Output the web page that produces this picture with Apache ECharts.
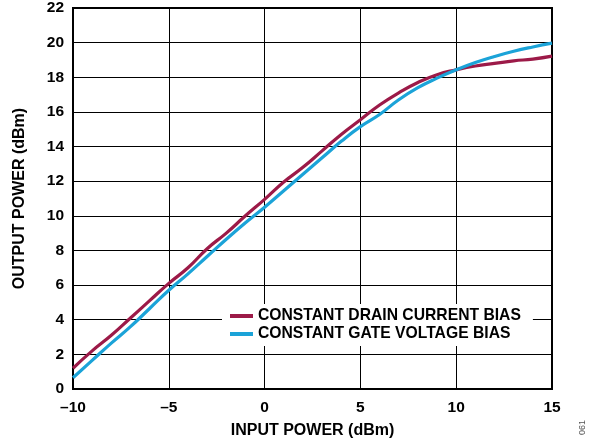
<!DOCTYPE html>
<html>
<head>
<meta charset="utf-8">
<script src="https://cdn.jsdelivr.net/npm/echarts@6/dist/echarts.min.js"></script>
<style>
html,body{margin:0;padding:0;background:#fff;}
#chart{width:596px;height:444px;}
</style>
</head>
<body>
<div id="chart"></div>
<script>
const inputPower = [-10,-9,-8,-7,-6,-5,-4,-3,-2,-1,0,1,2,3,4,5,6,7,8,9,10,11,12,13,14,15];
const drainCurrentBias = [1.2,2.2,3.1,4.1,5.1,6.1,7.0,8.1,9.0,10.0,10.95,11.95,12.8,13.75,14.7,15.55,16.4,17.1,17.7,18.15,18.43,18.65,18.8,18.95,19.05,19.22];
const gateVoltageBias = [0.65,1.65,2.65,3.6,4.65,5.7,6.65,7.65,8.65,9.6,10.5,11.45,12.4,13.35,14.3,15.15,15.85,16.7,17.4,17.95,18.43,18.85,19.2,19.5,19.75,19.97];
const seriesNames = ['CONSTANT DRAIN CURRENT BIAS','CONSTANT GATE VOLTAGE BIAS'];
const xTicks = [-10,-5,0,5,10,15];
const yTicks = [0,2,4,6,8,10,12,14,16,18,20,22];

const chart = echarts.init(document.getElementById('chart'), null, {renderer:'canvas'});
const font = 'Liberation Sans, Arial, sans-serif';
const pair = (xs, ys) => xs.map((x,i)=>[x, ys[i]]);
chart.setOption({
  animation:false,
  backgroundColor:'#fff',
  grid:{left:73,right:44,top:8,bottom:54,show:true,borderColor:'#000',borderWidth:2,backgroundColor:'transparent'},
  xAxis:{
    type:'value',min:xTicks[0],max:xTicks[xTicks.length-1],interval:5,
    name:'INPUT POWER (dBm)',nameLocation:'middle',nameGap:34,
    nameTextStyle:{fontFamily:font,fontWeight:'bold',fontSize:16,color:'#000'},
    axisLine:{show:false},
    axisTick:{show:false},
    axisLabel:{fontFamily:font,fontWeight:'bold',fontSize:15.5,color:'#000',margin:11,
      formatter:v=> v<0 ? '\u2013'+Math.abs(v) : String(v)},
    splitLine:{show:true,lineStyle:{color:'#000',width:1}}
  },
  yAxis:{
    type:'value',min:yTicks[0],max:yTicks[yTicks.length-1],interval:2,
    name:'OUTPUT POWER (dBm)',nameLocation:'middle',nameGap:45,
    nameTextStyle:{fontFamily:font,fontWeight:'bold',fontSize:16,color:'#000'},
    axisLine:{show:false},
    axisTick:{show:false},
    axisLabel:{fontFamily:font,fontWeight:'bold',fontSize:15.5,color:'#000',margin:9},
    splitLine:{show:true,lineStyle:{color:'#000',width:1}}
  },
  legend:{
    left:222,top:304,orient:'vertical',
    backgroundColor:'#fff',
    padding:[4,12,4,8],
    itemWidth:23,itemHeight:4,itemGap:2,
    icon:'rect',
    textStyle:{fontFamily:font,fontWeight:'bold',fontSize:15.7,color:'#000'},
    data:seriesNames
  },
  series:[
    {name:seriesNames[0],type:'line',smooth:true,showSymbol:false,data:pair(inputPower,drainCurrentBias),
      lineStyle:{color:'#9c1a48',width:3.2},itemStyle:{color:'#9c1a48'},z:3},
    {name:seriesNames[1],type:'line',smooth:true,showSymbol:false,data:pair(inputPower,gateVoltageBias),
      lineStyle:{color:'#1ba3d8',width:3.2},itemStyle:{color:'#1ba3d8'},z:4}
  ],
  graphic:[
    {type:'text',left:578,top:420,rotation:Math.PI/2,
      style:{text:'061',fontFamily:font,fontSize:9,fill:'#555'}}
  ]
});
</script>
</body>
</html>
